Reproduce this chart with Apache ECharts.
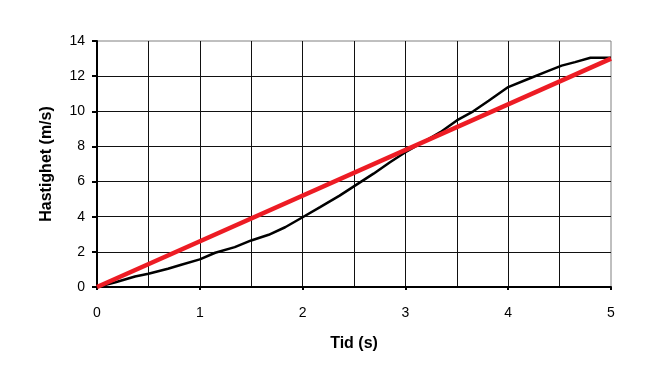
<!DOCTYPE html>
<html>
<head>
<meta charset="utf-8">
<script src="https://cdn.jsdelivr.net/npm/echarts@6/dist/echarts.min.js"></script>
<style>html,body{margin:0;padding:0;background:#fff;}#c{width:663px;height:379px;}</style>
</head>
<body>
<div id="c"></div>
<script>
var time = [0, 0.18, 0.37, 0.5, 0.69, 0.82, 1.0, 1.15, 1.34, 1.5, 1.67, 1.83, 2.0, 2.17, 2.36, 2.51, 2.69, 2.85, 3.0, 3.17, 3.34, 3.5, 3.66, 3.81, 4.0, 4.2, 4.36, 4.52, 4.65, 4.8, 5.0];
var speed = [0, 0.27, 0.6, 0.75, 1.04, 1.27, 1.57, 1.95, 2.27, 2.65, 2.97, 3.4, 3.97, 4.55, 5.2, 5.77, 6.45, 7.1, 7.67, 8.24, 8.81, 9.48, 10.0, 10.6, 11.38, 11.85, 12.23, 12.6, 12.8, 13.05, 13.05];
var lineTime = [0, 5];
var lineSpeed = [0, 13];
var xTitle = 'Tid (s)';
var yTitle = 'Hastighet (m/s)';

function pairs(xs, ys) { return xs.map(function (x, i) { return [x, ys[i]]; }); }

var font = 'Liberation Sans, Arial, sans-serif';
var chart = echarts.init(document.getElementById('c'), null, {renderer: 'canvas'});
chart.setOption({
  animation: false,
  grid: {left: 97, right: 52, top: 41, bottom: 92, show: true, borderColor: '#808080', borderWidth: 1, backgroundColor: 'transparent'},
  xAxis: {
    type: 'value', min: 0, max: 5, interval: 1,
    name: xTitle, nameLocation: 'middle', nameGap: 49,
    nameTextStyle: {fontFamily: font, fontSize: 16, fontWeight: 'bold', color: '#000'},
    axisLine: {show: true, lineStyle: {color: '#000', width: 2}},
    axisTick: {show: true, length: 3, inside: false, lineStyle: {color: '#000', width: 2}},
    axisLabel: {fontFamily: font, fontSize: 14, color: '#000', margin: 19},
    splitLine: {show: true, showMaxLine: false, lineStyle: {color: '#111', width: 1}},
    minorTick: {show: false, splitNumber: 2},
    minorSplitLine: {show: true, lineStyle: {color: '#111', width: 1}}
  },
  yAxis: {
    type: 'value', min: 0, max: 14, interval: 2,
    name: yTitle, nameLocation: 'middle', nameGap: 42, nameRotate: 90,
    nameTextStyle: {fontFamily: font, fontSize: 16, fontWeight: 'bold', color: '#000'},
    axisLine: {show: true, lineStyle: {color: '#000', width: 2}},
    axisTick: {show: true, length: 5, lineStyle: {color: '#000', width: 2}},
    axisLabel: {fontFamily: font, fontSize: 14, color: '#000', margin: 12},
    splitLine: {show: true, showMaxLine: false, lineStyle: {color: '#111', width: 1}}
  },
  series: [
    {type: 'line', data: pairs(time, speed), symbol: 'none', smooth: false,
     lineStyle: {color: '#000', width: 2.5}, z: 3},
    {type: 'line', data: pairs(lineTime, lineSpeed), symbol: 'none',
     lineStyle: {color: '#ed1c24', width: 4.5}, z: 4}
  ]
});
</script>
</body>
</html>
